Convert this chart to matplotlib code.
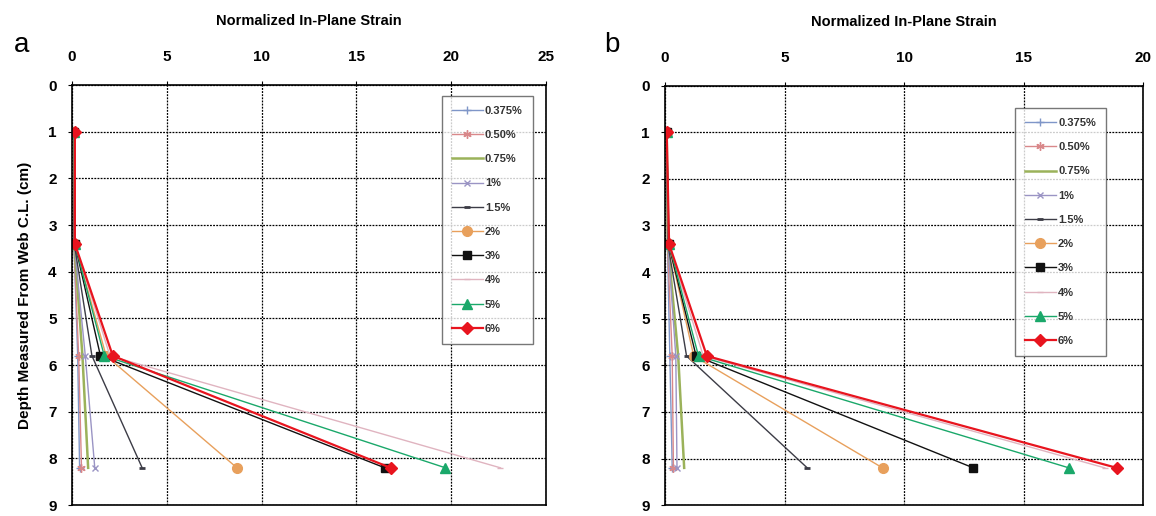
import matplotlib.pyplot as plt
import numpy as np

plt.rcParams['font.family'] = ['Liberation Sans', 'DejaVu Sans']

# depth of gauges (cm)
depth = [1.0, 3.4, 5.8, 8.2]

labels = ['0.375%', '0.50%', '0.75%', '1%', '1.5%', '2%', '3%', '4%', '5%', '6%']

# normalized in-plane strain, panel a
strain_a = {
    '0.375%': [0.10, 0.10, 0.30, 0.40],
    '0.50%':  [0.10, 0.10, 0.35, 0.50],
    '0.75%':  [0.10, 0.12, 0.55, 0.85],
    '1%':     [0.10, 0.12, 0.70, 1.20],
    '1.5%':   [0.10, 0.12, 1.05, 3.70],
    '2%':     [0.10, 0.15, 1.80, 8.70],
    '3%':     [0.10, 0.15, 1.50, 16.50],
    '4%':     [0.10, 0.15, 2.00, 22.60],
    '5%':     [0.10, 0.15, 1.70, 19.70],
    '6%':     [0.15, 0.15, 2.15, 16.80],
}

# normalized in-plane strain, panel b
strain_b = {
    '0.375%': [0.07, 0.10, 0.20, 0.30],
    '0.50%':  [0.07, 0.10, 0.30, 0.35],
    '0.75%':  [0.07, 0.12, 0.55, 0.80],
    '1%':     [0.07, 0.12, 0.45, 0.50],
    '1.5%':   [0.07, 0.12, 0.90, 5.95],
    '2%':     [0.07, 0.15, 1.20, 9.10],
    '3%':     [0.07, 0.15, 1.30, 12.90],
    '4%':     [0.07, 0.15, 1.60, 18.40],
    '5%':     [0.07, 0.17, 1.40, 16.90],
    '6%':     [0.07, 0.17, 1.75, 18.90],
}

styles = {
    '0.375%': dict(color='#7f96c8', marker='+', ms=6, lw=1.0),
    '0.50%':  dict(color='#d9888a', marker=(6, 2, 0), ms=6, lw=1.0),
    '0.75%':  dict(color='#9bb25a', marker=None, lw=1.8),
    '1%':     dict(color='#9a94c4', marker='x', ms=5, lw=1.0),
    '1.5%':   dict(color='#3c3c46', marker='_', ms=5, mew=2, lw=1.0),
    '2%':     dict(color='#e8a05c', marker='o', ms=7, lw=1.0),
    '3%':     dict(color='#111111', marker='s', ms=6, lw=1.0),
    '4%':     dict(color='#e0b4c0', marker='_', ms=5, lw=1.0),
    '5%':     dict(color='#1aa86a', marker='^', ms=7, lw=1.0),
    '6%':     dict(color='#e8141e', marker='D', ms=6, lw=1.6),
}


def draw_panel(ax, data, xmax, letter, legend_box, spacing):
    for lab in labels:
        st = dict(styles[lab])
        ax.plot(data[lab], depth, label=lab, **st)

    ax.set_xlim(0, xmax)
    ax.set_ylim(9, 0)
    ax.set_xticks(np.arange(0, xmax + 1, 5))
    ax.set_yticks(np.arange(0, 10, 1))
    ax.xaxis.tick_top()
    ax.xaxis.set_label_position('top')
    ax.set_xlabel('Normalized In-Plane Strain', fontsize=10.5, fontweight='bold', labelpad=18)
    ax.tick_params(labelsize=11, length=3, width=0.8)
    ax.tick_params(axis='x', pad=12)
    ax.tick_params(axis='y', pad=8)
    for t in ax.get_xticklabels() + ax.get_yticklabels():
        t.set_fontweight('bold')
    ax.grid(True, color='black', linestyle=(0, (1.5, 1)), linewidth=0.9)
    ax.set_axisbelow(True)
    for sp in ax.spines.values():
        sp.set_linewidth(1.2)

    leg = ax.legend(loc='upper left', bbox_to_anchor=legend_box, fontsize=8,
                    frameon=True, fancybox=False, edgecolor='#555555',
                    handlelength=2.8, labelspacing=spacing, borderpad=0.9,
                    handletextpad=0.2)
    leg.get_frame().set_linewidth(1.0)
    for t in leg.get_texts():
        t.set_fontweight('bold')
        t.set_color('#333333')

    ax.figure.text(letter[0], letter[1], letter[2], fontsize=20, ha='left', va='center')


fig = plt.figure(figsize=(11.56, 5.16), dpi=100)
ax_a = fig.add_axes([0.0623, 0.021, 0.410, 0.814])
ax_b = fig.add_axes([0.5753, 0.021, 0.4135, 0.813])

draw_panel(ax_a, strain_a, 25, (0.012, 0.913, 'a'), (0.768, 0.988), 1.28)
draw_panel(ax_b, strain_b, 20, (0.523, 0.913, 'b'), (0.72, 0.96), 1.28)

ax_a.set_ylabel('Depth Measured From Web C.L. (cm)', fontsize=11, fontweight='bold', labelpad=12)

fig.savefig('out.png', dpi=100)
